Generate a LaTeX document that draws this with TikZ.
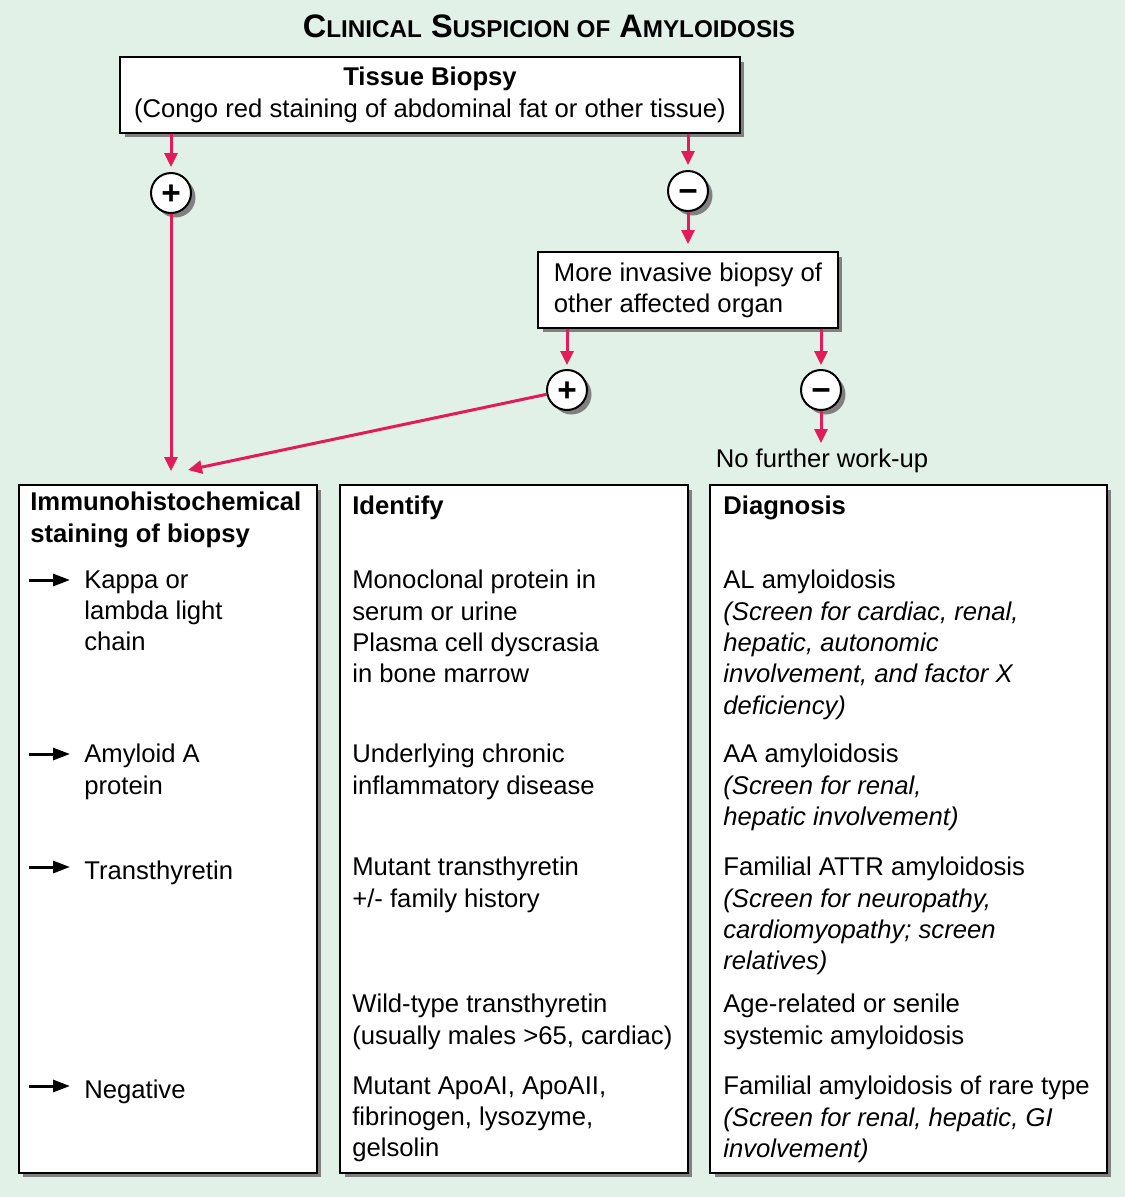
\documentclass[tikz,border=0pt]{standalone}
\usepackage{fontspec}
\setmainfont{Liberation Sans}
\usetikzlibrary{arrows.meta,positioning,shadows}
\definecolor{mint}{HTML}{E1F1E7}
\definecolor{crimson}{HTML}{E31B5C}
\newcommand\bodyfont{\fontsize{14.6}{17.8}\selectfont}
\newcommand\smallcap[1]{{\fontsize{13.8}{14}\selectfont #1}}

\begin{document}
\begin{tikzpicture}[x=0.02cm,y=-0.02cm,
 lift/.style={drop shadow={shadow xshift=0.09cm,shadow yshift=-0.09cm,fill=black!50,opacity=1}},
 box/.style={draw,line width=0.04cm,fill=white,lift,font=\bodyfont,align=center},
 panel/.style={draw,line width=0.04cm,fill=white,lift,anchor=north west,inner sep=0},
 sign/.style={circle,draw,line width=0.04cm,fill=white,lift,minimum size=0.8cm,inner sep=0,text height=13pt,text depth=0pt,font=\fontsize{19}{19}\selectfont\bfseries},
 flow/.style={crimson,line width=0.06cm,-{Triangle[length=0.28cm,width=0.26cm]}},
 txt/.style={anchor=north west,inner sep=0,align=left,font=\bodyfont,execute at begin node=\strut},
 hd/.style={txt,font=\bodyfont\bfseries},
 pointer/.style={line width=0.06cm,-{Triangle[length=0.34cm,width=0.24cm]}}]
\fill[mint] (0,0) rectangle (1125,1197);\useasboundingbox (0,0) rectangle (1125,1197);
\node[anchor=base,font=\bfseries\fontsize{18.5}{18.5}\selectfont] (title) at (549,37) {C\smallcap{LINICAL} S\smallcap{USPICION OF} A\smallcap{MYLOIDOSIS}};
% top of the work-up
\node[box,minimum width=12.4cm,minimum height=1.52cm] (tissue) at (430,95) {{\bfseries Tissue Biopsy}\\(Congo red staining of abdominal fat or other tissue)};
\node[sign] (pos1) at (171,193) {+};\node[sign] (neg1) at (688,191) {−};
\node[box,align=left,minimum width=6cm,minimum height=1.52cm] (invasive) at (688,290) {More invasive biopsy of\\other affected organ};
\node[sign] (pos2) at (567,390) {+};\node[sign] (neg2) at (821,390) {−};
\node[anchor=base,inner sep=0,font=\bodyfont] (stop) at (822,467) {No further work-up};
\coordinate (meet) at (188,470);
% the three panels
\node[panel,minimum width=5.96cm,minimum height=13.76cm] (stain) at (18,484) {};
\node[panel,minimum width=6.96cm,minimum height=13.76cm] (ident) at (339,484) {};
\node[panel,minimum width=7.94cm,minimum height=13.76cm] (diag) at (709,484) {};
\node[hd] (h1) at (30,492) {Immunohistochemical\\staining of biopsy};
\node[hd] (h2) at (352,492) {Identify};\node[hd] (h3) at (723,492) {Diagnosis};
\node[txt] (kappa) at (84,570) {Kappa or\\lambda light\\chain};
\node[txt] (aprot) at (84,744) {Amyloid A\\protein};
\node[txt] (ttr) at (84,857) {Transthyretin};
\node[txt] (negative) at (84,1076) {Negative};
\node[txt] (mono) at (352,570) {Monoclonal protein in\\serum or urine\\Plasma cell dyscrasia\\in bone marrow};
\node[txt] (chronic) at (352,744) {Underlying chronic\\inflammatory disease};
\node[txt] (mutant) at (352,857) {Mutant transthyretin\\+/- family history};
\node[txt] (wild) at (352,994) {Wild-type transthyretin\\(usually males >65, cardiac)};
\node[txt] (apo) at (352,1076) {Mutant ApoAI, ApoAII,\\fibrinogen, lysozyme,\\gelsolin};
\node[txt] (al) at (723,570) {AL amyloidosis\\\textit{(Screen for cardiac, renal,}\\\textit{hepatic, autonomic}\\\textit{involvement, and factor X}\\\textit{deficiency)}};
\node[txt] (aa) at (723,744) {AA amyloidosis\\\textit{(Screen for renal,}\\\textit{hepatic involvement)}};
\node[txt] (attr) at (723,857) {Familial ATTR amyloidosis\\\textit{(Screen for neuropathy,}\\\textit{cardiomyopathy; screen}\\\textit{relatives)}};
\node[txt] (senile) at (723,994) {Age-related or senile\\systemic amyloidosis};
\node[txt] (rare) at (723,1076) {Familial amyloidosis of rare type\\\textit{(Screen for renal, hepatic, GI}\\\textit{involvement)}};
\foreach \n in {kappa,aprot,ttr,negative} \draw[pointer] ([shift={(-55,10)}]\n.north west) -- ++(41,0);
% connectors
\draw[flow,shorten >=0.1cm] (tissue.south -| pos1) -- (pos1);
\draw[flow,shorten >=0.26cm] (pos1) -- (pos1 |- stain.north);
\draw[flow,shorten >=0.1cm] (tissue.south -| neg1) -- (neg1);
\draw[flow,shorten >=0.14cm] (neg1) -- (neg1 |- invasive.north);
\draw[flow,shorten >=0.08cm] (invasive.south -| pos2) -- (pos2);
\draw[flow,shorten >=0.08cm] (invasive.south -| neg2) -- (neg2);
\draw[flow,shorten >=0.1cm] (neg2) -- (stop.north -| neg2);
\draw[flow] (pos2) -- (meet);
\end{tikzpicture}
\end{document}
